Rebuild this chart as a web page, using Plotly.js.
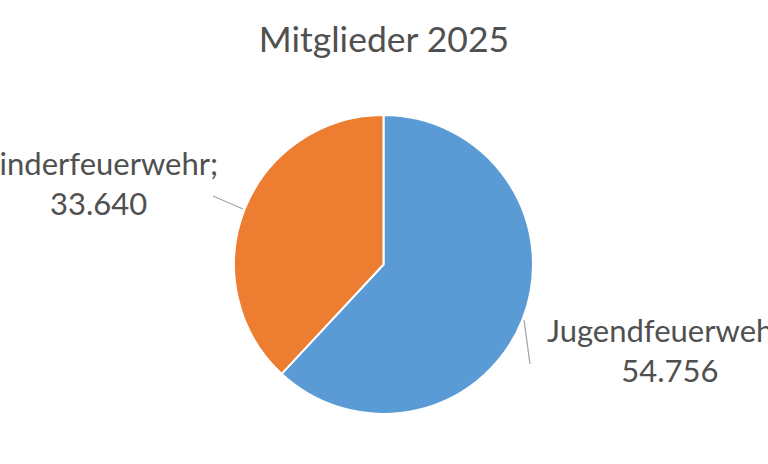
<!DOCTYPE html>
<html>
<head>
<meta charset="utf-8">
<script src="https://cdn.plot.ly/plotly-3.0.1.min.js"></script>
<style>
  html, body { margin: 0; padding: 0; background: #fff; }
  #chart { width: 768px; height: 464px; }
</style>
</head>
<body>
<div id="chart"></div>
<script>
const categories = ["Jugendfeuerwehr", "Kinderfeuerwehr"];
const members = [54756, 33640];
const sliceColors = ["#5B9BD5", "#ED7D31"];

/* German thousands separator */
function withDots(x) {
    return Math.floor(x)
        .toString()
        .replace(/\B(?=(\d{3})+(?!\d))/g, ".");
}

const W = 768, H = 464;
const cx = 383.5, cy = 264.5, r = 149.5;
const textColor = "#505050";
const font = "Lato, 'Open Sans', sans-serif";

const pie = {
    type: "pie",
    labels: categories,
    values: members,
    sort: false,
    direction: "clockwise",
    rotation: 0,
    textinfo: "none",
    hoverinfo: "label+value",
    marker: { colors: sliceColors, line: { color: "#ffffff", width: 2 } },
    domain: {
        x: [(cx - r) / W, (cx + r) / W],
        y: [(H - cy - r) / H, (H - cy + r) / H],
    },
};

// label positions (pixels) for each slice
const labelPos = [
    { x: 670, y: 350 },
    { x: 98, y: 183 },
];
const leader = [
    [524, 320, 530, 364],
    [213, 196, 243, 209],
];

const annotations = categories.map((c, i) => ({
    text: c + ";<br>" + withDots(members[i]),
    xref: "paper", yref: "paper",
    x: labelPos[i].x / W, y: 1 - labelPos[i].y / H,
    xanchor: "center", yanchor: "middle",
    showarrow: false,
    font: { family: font, size: 31, color: textColor },
}));

const shapes = leader.map((l) => ({
    type: "line", xref: "paper", yref: "paper",
    x0: l[0] / W, y0: 1 - l[1] / H, x1: l[2] / W, y1: 1 - l[3] / H,
    line: { color: "#A6A6A6", width: 1.3 },
}));

const layout = {
    width: W,
    height: H,
    margin: { l: 0, r: 0, t: 0, b: 0 },
    paper_bgcolor: "#ffffff",
    showlegend: false,
    title: {
        text: "Mitglieder 2025",
        x: 0.5, xanchor: "center",
        y: 1 - 40 / H, yanchor: "middle",
        font: { family: font, size: 35.5, color: textColor },
    },
    annotations: annotations,
    shapes: shapes,
};

Plotly.newPlot("chart", [pie], layout, { displayModeBar: false, staticPlot: true });
</script>
</body>
</html>
